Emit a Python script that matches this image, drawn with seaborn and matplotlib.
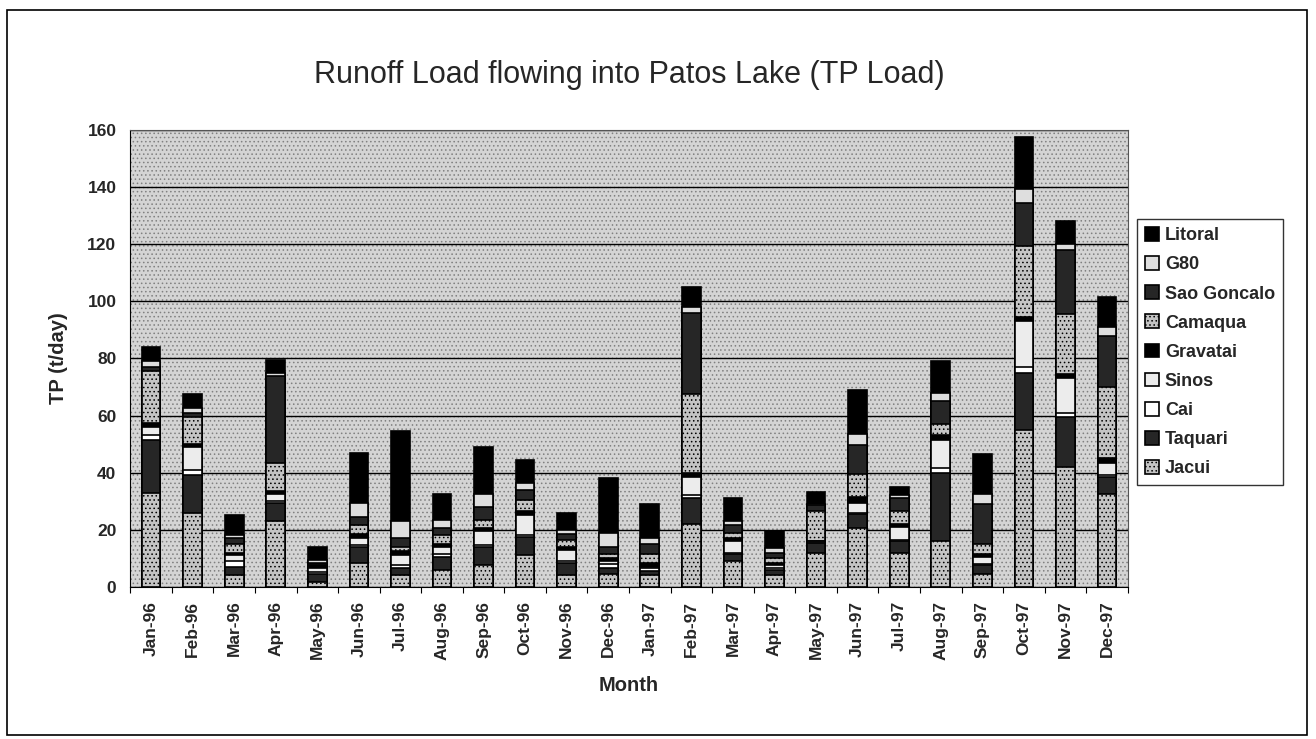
import numpy as np
import pandas as pd
import matplotlib.pyplot as plt
import seaborn as sns
from matplotlib.patches import Rectangle

months = ['Jan-96','Feb-96','Mar-96','Apr-96','May-96','Jun-96','Jul-96','Aug-96',
          'Sep-96','Oct-96','Nov-96','Dec-96','Jan-97','Feb-97','Mar-97','Apr-97',
          'May-97','Jun-97','Jul-97','Aug-97','Sep-97','Oct-97','Nov-97','Dec-97']

# TP load (t/day) per river (stack order bottom -> top)
jacui       = [33, 26, 4, 23, 1.5, 8.5, 4, 6, 7.5, 11, 4, 4.5, 4, 22, 9, 4, 12, 20.5, 12, 16, 4.5, 55, 42, 32.5]
taquari     = [18.5, 13, 3, 6.5, 3, 5.5, 2.5, 4.5, 6.5, 6.5, 4.5, 2, 1.5, 9, 2.5, 2, 3.5, 5, 4, 24, 3, 20, 17.5, 6]
cai         = [1.5, 2, 2, 0.5, 0.5, 0.5, 1, 1, 0.5, 0.5, 0.5, 1.5, 1, 1, 0.5, 0.5, 0.2, 0.5, 0.5, 1.5, 0.5, 2, 1.5, 0.5]
sinos       = [3, 8, 2, 2.5, 1.5, 2.5, 3.5, 2.5, 5, 7, 4, 1, 0.5, 6.5, 4, 1, 0.2, 3.5, 4.5, 10, 2.5, 16, 12, 4.5]
gravatai    = [1.5, 1, 1, 1, 1, 1.5, 1.5, 1, 1, 1.5, 1, 1, 1.5, 1.5, 1, 1, 0.2, 2, 1, 1.5, 1, 1.5, 1.5, 1.5]
camaqua     = [18, 9.5, 3, 10, 0.5, 3, 1.5, 3, 3, 4, 2.5, 1.5, 3, 27.5, 2, 1.5, 10.5, 8, 4.5, 4, 3.5, 25, 21, 25]
sao_goncalo = [1.5, 1.5, 2, 30.5, 0.5, 3, 3, 2.5, 4.5, 3.5, 2, 2.5, 3.5, 28.5, 2.5, 2, 2, 10, 4.5, 8, 14, 15, 22.5, 18]
g80         = [2, 1.5, 1, 1, 1, 5, 6, 3, 4.5, 2.5, 1.5, 5, 2, 2, 1.5, 1.5, 0.5, 4, 1, 3, 3.5, 5, 2, 3]
litoral     = [5, 5, 7, 4.5, 4.5, 17.5, 31.5, 9, 16.5, 8, 6, 19, 12, 7, 8, 6, 4, 15.5, 3, 11, 14, 18, 8, 10.5]

series = ['Jacui','Taquari','Cai','Sinos','Gravatai','Camaqua','Sao Goncalo','G80','Litoral']
df = pd.DataFrame({'Jacui': jacui, 'Taquari': taquari, 'Cai': cai, 'Sinos': sinos,
                   'Gravatai': gravatai, 'Camaqua': camaqua, 'Sao Goncalo': sao_goncalo,
                   'G80': g80, 'Litoral': litoral}, index=months)
cum = df[series].cumsum(axis=1)

# grayscale fills (face, hatch) imitating the excel patterns
styles = {
    'Litoral':     ('black', None),
    'G80':         ('#dedede', None),
    'Sao Goncalo': ('#262626', None),
    'Camaqua':     ('#c4c4c4', '....'),
    'Gravatai':    ('black', None),
    'Sinos':       ('#ececec', None),
    'Cai':         ('white', None),
    'Taquari':     ('#262626', None),
    'Jacui':       ('#c4c4c4', '....'),
}

sns.set_style('white')
plt.rcParams['font.family'] = ['Liberation Sans', 'DejaVu Sans']
plt.rcParams['hatch.linewidth'] = 0.6

fig = plt.figure(figsize=(13.16, 7.39), dpi=100)
ax = fig.add_axes([0.099, 0.206, 0.758, 0.618])
ax.set_facecolor('#cfcfcf')
ax.add_patch(Rectangle((0, 0), 1, 1, transform=ax.transAxes, facecolor='#d4d4d4',
                       hatch='....', edgecolor='#808080', lw=0, zorder=0))

# overlapping cumulative bars, top of stack first
for name in series[::-1]:
    face, hatch = styles[name]
    sns.barplot(x=months, y=cum[name].values, color=face, hatch=hatch,
                edgecolor='black', linewidth=1.2, width=0.45, saturation=1,
                label=name, ax=ax, zorder=3)

ax.set_ylim(0, 160)
ax.set_xlim(-0.5, len(months) - 0.5)
ax.set_yticks(range(0, 161, 20))
ax.set_xticks(np.arange(len(months) + 1) - 0.5, minor=True)
ax.yaxis.grid(True, color='black', linewidth=1)
ax.set_axisbelow(True)
for s in ax.spines.values():
    s.set_color('#555555')
    s.set_linewidth(0.8)
ax.spines['left'].set_color('black')
ax.spines['bottom'].set_color('black')

ax.tick_params(axis='x', labelrotation=90, labelsize=12.5, length=0, pad=10)
ax.tick_params(axis='x', which='minor', length=4, width=0.8, direction='out', color='black', bottom=True)
ax.tick_params(axis='y', labelsize=12.5, length=0, pad=10)
for lab in ax.get_xticklabels() + ax.get_yticklabels():
    lab.set_fontweight('bold')

ax.set_xlabel('Month', fontsize=14.5, fontweight='bold', labelpad=12)
ax.set_ylabel('TP (t/day)', fontsize=14.5, fontweight='bold', labelpad=14)
ax.set_title('Runoff Load flowing into Patos Lake (TP Load)', fontsize=22, pad=34)

leg = ax.legend(loc='upper left', bbox_to_anchor=(1.0, 0.825), frameon=True,
                fancybox=False, edgecolor='black',
                handlelength=0.8, handleheight=0.8, handletextpad=0.3,
                labelspacing=0.66, borderpad=0.45, prop={'weight': 'bold', 'size': 13})
leg.get_frame().set_linewidth(1)

fig.patches.append(Rectangle((0.005, 0.005), 0.988, 0.982, transform=fig.transFigure,
                             fill=False, edgecolor='black', linewidth=1.2))

fig.savefig('out.png', dpi=100, facecolor='white')
